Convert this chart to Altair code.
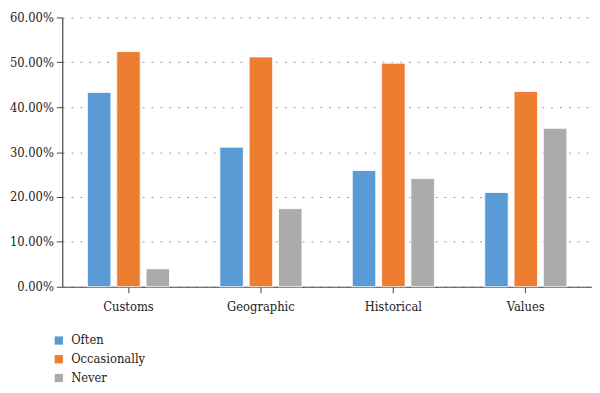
import altair as alt
import pandas as pd

categories = ["Customs", "Geographic", "Historical", "Values"]
series = ["Often", "Occasionally", "Never"]
often = [0.433, 0.311, 0.259, 0.210]
occasionally = [0.524, 0.512, 0.498, 0.435]
never = [0.040, 0.174, 0.241, 0.353]
colors = ["#5B9BD5", "#ED7D31", "#ABABAB"]

rows = []
for i, c in enumerate(categories):
    for s, vals in zip(series, [often, occasionally, never]):
        rows.append({"category": c, "series": s, "value": vals[i]})
df = pd.DataFrame(rows)

FONT = "DejaVu Serif Condensed"

chart = alt.Chart(df).mark_bar(stroke="white", strokeWidth=0.8).encode(
    x=alt.X("category:N", sort=categories, title=None,
            scale=alt.Scale(paddingInner=0.38, paddingOuter=0.19),
            axis=alt.Axis(labelAngle=0, labelFont=FONT, labelFontSize=13,
                          labelColor="#222", tickColor="#444", tickSize=6,
                          domainColor="#444", domainWidth=1.2, labelPadding=8,
                          grid=False)),
    xOffset=alt.XOffset("series:N", sort=series,
                        scale=alt.Scale(paddingInner=0.2, paddingOuter=0)),
    y=alt.Y("value:Q", title=None,
            scale=alt.Scale(domain=[0, 0.6], nice=False),
            axis=alt.Axis(format=".2%", values=[0, 0.1, 0.2, 0.3, 0.4, 0.5, 0.6],
                          labelFont=FONT, labelFontSize=13, labelColor="#222",
                          tickColor="#444", tickSize=6, labelPadding=3,
                          domainColor="#444", domainWidth=1.2,
                          grid=True, gridColor="#999999", gridDash=[2, 7],
                          gridWidth=1)),
    color=alt.Color("series:N", sort=series,
                    scale=alt.Scale(domain=series, range=colors),
                    legend=alt.Legend(title=None, orient="none", legendX=-10,
                                      legendY=321, symbolType="square",
                                      symbolSize=70, symbolStrokeWidth=0,
                                      labelFont=FONT, labelFontSize=13,
                                      labelColor="#222", rowPadding=5,
                                      labelOffset=6)),
).properties(
    width=537, height=273,
    autosize=alt.AutoSizeParams(type="none"),
    padding={"left": 55, "top": 7, "right": 0, "bottom": 97},
).configure_view(stroke=None)

chart.save("out.html", embed_options={"renderer": "svg", "actions": False})
